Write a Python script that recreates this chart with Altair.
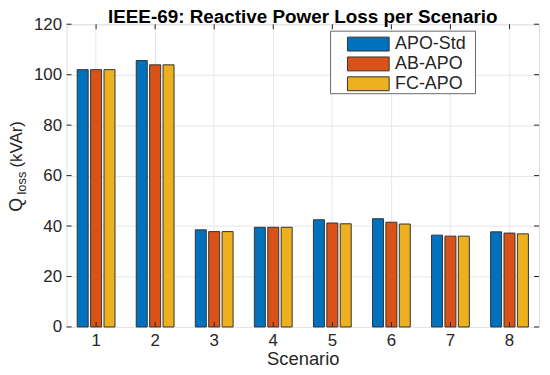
import altair as alt
import pandas as pd

scenarios = ["1", "2", "3", "4", "5", "6", "7", "8"]
methods = ["APO-Std", "AB-APO", "FC-APO"]
apo_std = [102.0, 105.6, 38.5, 39.5, 42.5, 42.9, 36.4, 37.7]
ab_apo = [102.0, 103.9, 37.8, 39.5, 41.2, 41.5, 36.0, 37.2]
fc_apo = [102.0, 103.9, 37.8, 39.5, 40.9, 40.8, 36.0, 36.9]
colors = ["#0072BD", "#D95319", "#EDB120"]
y_ticks = [0, 20, 40, 60, 80, 100, 120]
title_text = "IEEE-69: Reactive Power Loss per Scenario"

rows = []
for m, vals in zip(methods, [apo_std, ab_apo, fc_apo]):
    for s, v in zip(scenarios, vals):
        rows.append({"Scenario": s, "Method": m, "Qloss": v})
df = pd.DataFrame(rows)
df_x = pd.DataFrame({"Scenario": scenarios})
df_y = pd.DataFrame({"v": y_ticks})

FONT = "Liberation Sans"
TXT = "#262626"
W, H = 476, 305

x_enc = alt.X("Scenario:N", sort=scenarios,
              scale=alt.Scale(paddingInner=0.36, paddingOuter=0.18),
              axis=alt.Axis(title="Scenario", labelAngle=0, bandPosition=0.5,
                            ticks=False, domain=False, labelPadding=6,
                            labelFontSize=17, titleFontSize=18.5, titleFontWeight="normal",
                            titleBaseline="alphabetic", titleY=38,
                            labelColor=TXT, titleColor=TXT,
                            labelFont=FONT, titleFont=FONT,
                            grid=True, gridColor="#e6e6e6"))
y_scale = alt.Scale(domain=[0, 120], nice=False)

bars = alt.Chart(df).mark_bar(stroke="#333333", strokeWidth=1).encode(
    x=x_enc,
    xOffset=alt.XOffset("Method:N", sort=methods, scale=alt.Scale(paddingInner=0.18)),
    y=alt.Y("Qloss:Q", scale=y_scale,
            axis=alt.Axis(title=None, values=y_ticks, ticks=False, domain=False,
                          labelPadding=5, labelFontSize=17, labelColor=TXT,
                          labelFont=FONT, grid=True, gridColor="#e6e6e6")),
    color=alt.Color("Method:N", sort=methods,
                    scale=alt.Scale(domain=methods, range=colors),
                    legend=alt.Legend(title=None, orient="none", legendX=295, legendY=11,
                                      symbolType="M-3,-1H3V1H-3Z", symbolSize=196,
                                      symbolStrokeColor="#333333", symbolStrokeWidth=1,
                                      labelFontSize=18, labelFont=FONT, labelColor=TXT,
                                      labelOffset=18, rowPadding=2, padding=0)),
)

# inward ticks (MATLAB style) on all four sides
tick_style = dict(color=TXT, strokeWidth=1)
xt_bottom = alt.Chart(df_x).mark_rule(**tick_style).encode(
    x=alt.X("Scenario:N", sort=scenarios), y=alt.value(H), y2=alt.value(H - 5))
xt_top = alt.Chart(df_x).mark_rule(**tick_style).encode(
    x=alt.X("Scenario:N", sort=scenarios), y=alt.value(0), y2=alt.value(5))
yt_left = alt.Chart(df_y).mark_rule(**tick_style).encode(
    y=alt.Y("v:Q", scale=y_scale), x=alt.value(0), x2=alt.value(5))
yt_right = alt.Chart(df_y).mark_rule(**tick_style).encode(
    y=alt.Y("v:Q", scale=y_scale), x=alt.value(W - 5), x2=alt.value(W))

dummy = pd.DataFrame({"k": [0]})
legend_box = alt.Chart(dummy).mark_rect(fill="white", stroke="#444444", strokeWidth=0.8).encode(
    x=alt.value(266), x2=alt.value(412), y=alt.value(7), y2=alt.value(70)
)

def label(txt, size, x, y, color=TXT, **kw):
    return alt.Chart(pd.DataFrame({"t": [txt]})).mark_text(
        fontSize=size, font=FONT, color=color, **kw
    ).encode(text="t:N", x=alt.value(x), y=alt.value(y))

q_txt = label("Q", 18, -49.5, 182, angle=270, baseline="middle", align="center")
loss_txt = label("loss", 13, -44.5, 160, angle=270, baseline="middle", align="center")
unit_txt = label("(kVAr)", 17, -49.5, 121, angle=270, baseline="middle", align="center")
title_txt = label(title_text, 19, W / 2, -1, color="#000000", fontWeight="bold",
                  baseline="alphabetic", align="center")

chart = alt.layer(bars, xt_bottom, xt_top, yt_left, yt_right, legend_box,
                  q_txt, loss_txt, unit_txt, title_txt).properties(
    width=W, height=H,
    autosize=alt.AutoSizeParams(type="none"),
    padding={"left": 59, "top": 15, "right": 3, "bottom": 39},
).configure_view(stroke="#888888", strokeWidth=1).configure(background="white")

chart.save("out.html", embed_options={"renderer": "svg", "actions": False})
